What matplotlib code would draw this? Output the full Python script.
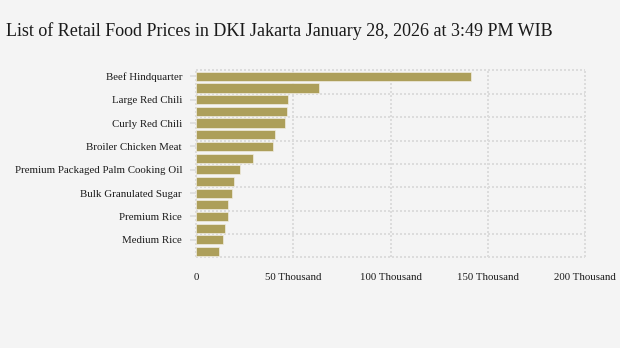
import matplotlib
matplotlib.use("Agg")
import matplotlib.pyplot as plt
import numpy as np

categories = [
    "Beef Hindquarter", "Red Bird's Eye Chili", "Large Red Chili", "Shallots",
    "Curly Red Chili", "Garlic", "Broiler Chicken Meat", "Broiler Chicken Eggs",
    "Premium Packaged Palm Cooking Oil", "Bulk Palm Cooking Oil", "Bulk Granulated Sugar",
    "Packaged Granulated Sugar", "Premium Rice", "Low Quality Rice", "Medium Rice",
    "Bulk Wheat Flour",
]
prices = [141300, 63200, 47300, 46800, 45700, 40600, 39600, 29300,
          22600, 19500, 18500, 16400, 16400, 14900, 13900, 11800]
xticks = [0, 50000, 100000, 150000, 200000]
xticklabels = ["0", "50 Thousand", "100 Thousand", "150 Thousand", "200 Thousand"]
title = "List of Retail Food Prices in DKI Jakarta January 28, 2026 at 3:49 PM WIB"

BG = "#f4f4f4"
BAR = "#ad9f5a"
GRID = "#dcdcdc"
plt.rcParams['font.family'] = ['Liberation Serif', 'DejaVu Serif']

fig = plt.figure(figsize=(6.2, 3.48), dpi=100, facecolor=BG)
ax = fig.add_axes([196/620, 1-257.3/348, (585-196)/620, (257.3-70.5)/348])
ax.set_facecolor(BG)

y = np.arange(len(categories))
ax.barh(y, prices, height=0.78, color=BAR, edgecolor="#f0ece0", linewidth=0.5, zorder=3)
ax.set_ylim(len(categories)-0.5, -0.5)
ax.set_xlim(0, 200000)

ax.set_yticks(y[::2])
ax.set_yticklabels(categories[::2], fontsize=7.8, color="#1a1a1a")
ax.tick_params(axis='y', which='major', length=4, width=1.2, color=GRID, pad=6)

ax.set_xticks(xticks)
ax.set_xticklabels(xticklabels, fontsize=7.8, color="#1a1a1a")
ax.tick_params(axis='x', length=0, pad=11)

dash = (0, (1, 1))
for xv in xticks:
    ax.axvline(xv, color=GRID, linestyle=dash, linewidth=1.44, zorder=0, clip_on=False)
for yv in np.arange(-0.5, len(categories), 2):
    ax.axhline(yv, color=GRID, linestyle=dash, linewidth=1.44, zorder=0, clip_on=False)
for s in ax.spines.values():
    s.set_visible(False)

fig.text(6/620, 1-31/348, title, fontsize=13.0, color="#1a1a1a", ha='left', va='center')

fig.savefig("out.png", dpi=100, facecolor=BG)
